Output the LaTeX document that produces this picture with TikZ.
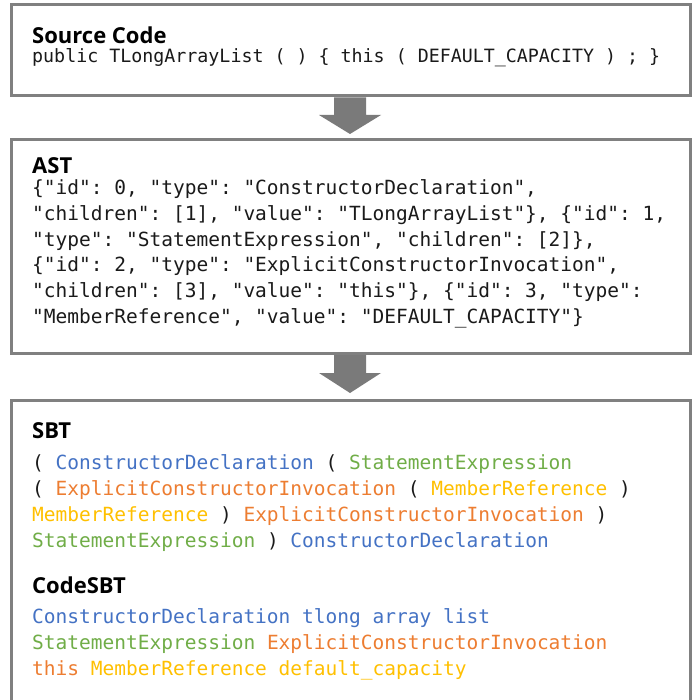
\documentclass[tikz,border=0pt]{standalone}
\usepackage{fontspec}
\setsansfont{Open Sans}
\setmonofont{DejaVu Sans Mono}
\definecolor{bordergray}{HTML}{808080}
\definecolor{arrowgray}{HTML}{7A7A7A}
\definecolor{cblue}{HTML}{4472C4}
\definecolor{cgreen}{HTML}{70AD47}
\definecolor{corange}{HTML}{ED7D31}
\definecolor{cyellow}{HTML}{FFC000}
\definecolor{codeblack}{HTML}{1A1A1A}
\tikzset{
  panel/.style={draw=bordergray, line width=3pt, fill=white},
  title/.style={anchor=base west, inner sep=0pt, font=\sffamily\bfseries\fontsize{22}{26}\selectfont, text=black},
  codeline/.style={anchor=base west, inner sep=0pt, font=\ttfamily\fontsize{18.3}{26}\selectfont, text=codeblack},
  bigline/.style={anchor=base west, inner sep=0pt, font=\ttfamily\fontsize{19.5}{26}\selectfont, text=codeblack},
  flowarrow/.style={fill=arrowgray, draw=none}
}
\begin{document}
\begin{tikzpicture}[x=1pt,y=-1pt]
\clip (0,0) rectangle (696,700);
\fill[white] (0,0) rectangle (696,700);
% panels
\draw[panel] (11,4.5) rectangle (690.5,96);
\draw[panel] (11,139.5) rectangle (690.5,353.5);
\draw[panel] (11,400.5) rectangle (690.5,720);
% arrows
\fill[flowarrow] (334,97.5) -- (366,97.5) -- (366,115) -- (381,115) -- (350,134) -- (319,115) -- (334,115) -- cycle;
\fill[flowarrow] (334,355) -- (366,355) -- (366,373) -- (381,373) -- (350,393) -- (319,373) -- (334,373) -- cycle;
% Source code
\node[title] (t1) at (32,44) {Source Code};
\node[codeline] (s1) at (32,63) {public TLongArrayList ( ) \{ this ( DEFAULT\_CAPACITY ) ; \}};
% AST
\node[title] (t2) at (32,174) {AST};
\node[bigline] (a1) at (32,195) {\{"id": 0, "type": "ConstructorDeclaration",};
\node[bigline] (a2) at (32,220.6) {"children": [1], "value": "TLongArrayList"\}, \{"id": 1,};
\node[bigline] (a3) at (32,246.2) {"type": "StatementExpression", "children": [2]\},};
\node[bigline] (a4) at (32,271.8) {\{"id": 2, "type": "ExplicitConstructorInvocation",};
\node[bigline] (a5) at (32,297.4) {"children": [3], "value": "this"\}, \{"id": 3, "type":};
\node[bigline] (a6) at (32,323) {"MemberReference", "value": "DEFAULT\_CAPACITY"\}};
% SBT
\node[title] (t3) at (32,438) {SBT};
\node[bigline] (b1) at (32,469) {( \textcolor{cblue}{ConstructorDeclaration} ( \textcolor{cgreen}{StatementExpression}};
\node[bigline] (b2) at (32,495) {( \textcolor{corange}{ExplicitConstructorInvocation} ( \textcolor{cyellow}{MemberReference} )};
\node[bigline] (b3) at (32,521) {\textcolor{cyellow}{MemberReference} ) \textcolor{corange}{ExplicitConstructorInvocation} )};
\node[bigline] (b4) at (32,547) {\textcolor{cgreen}{StatementExpression} ) \textcolor{cblue}{ConstructorDeclaration}};
% CodeSBT
\node[title] (t4) at (32,593) {CodeSBT};
\node[bigline] (c1) at (32,623) {\textcolor{cblue}{ConstructorDeclaration tlong array list}};
\node[bigline] (c2) at (32,649) {\textcolor{cgreen}{StatementExpression} \textcolor{corange}{ExplicitConstructorInvocation}};
\node[bigline] (c3) at (32,675) {\textcolor{corange}{this} \textcolor{cyellow}{MemberReference default\_capacity}};
\end{tikzpicture}
\end{document}
